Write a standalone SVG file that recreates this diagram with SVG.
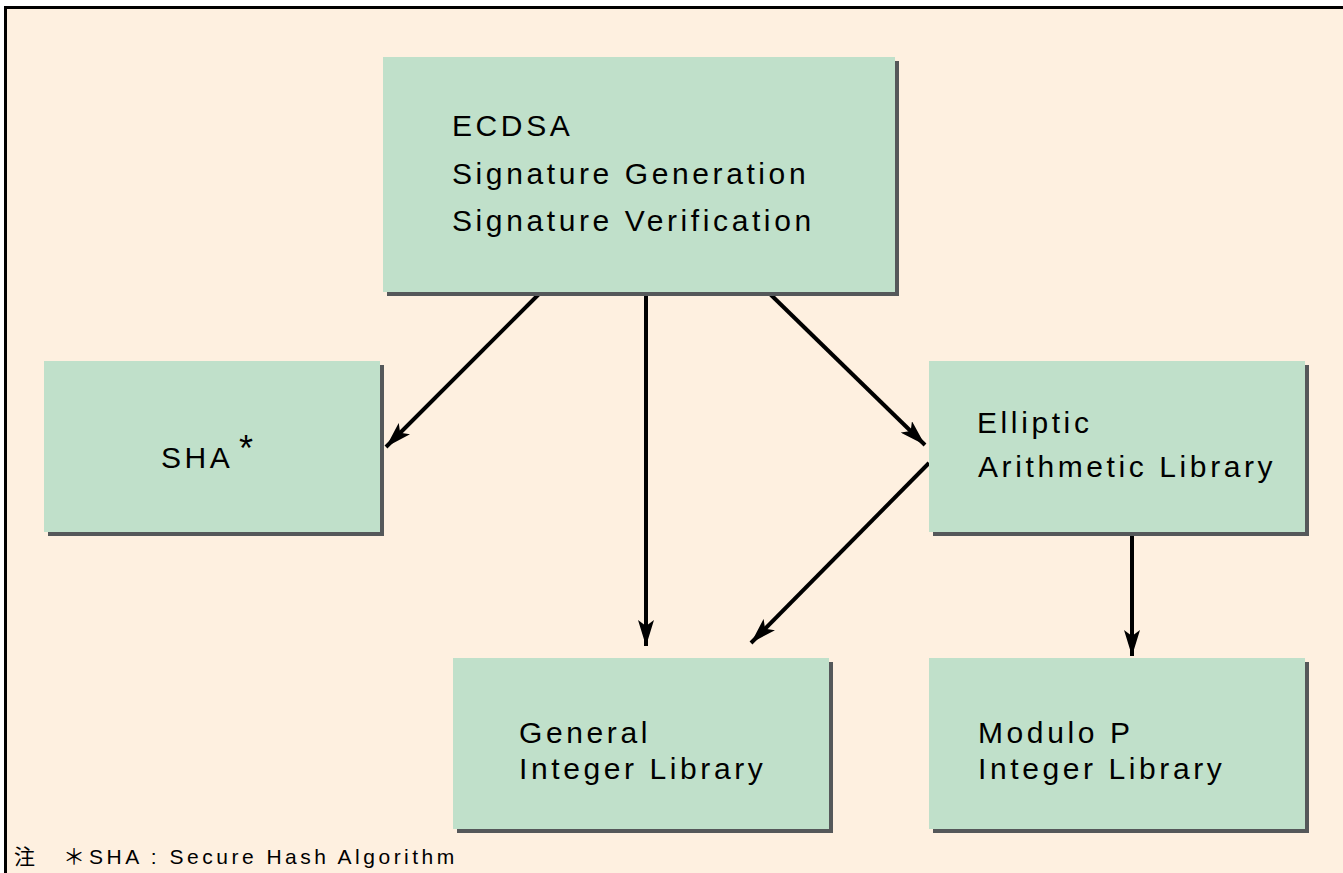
<svg xmlns="http://www.w3.org/2000/svg" width="1343" height="873" viewBox="0 0 1343 873">
<defs>
<style>
.box{fill:#c0e0ca}
.sh{fill:#55585a}
.t{font-family:"Liberation Sans",Arial,sans-serif;font-size:30px;letter-spacing:3.6px;fill:#000}
.c{stroke:#000;stroke-width:4;fill:none}
.n{font-family:"Liberation Sans",Arial,"Noto Sans CJK JP",sans-serif;font-size:21px;letter-spacing:3.5px;fill:#000}
.ast{font-family:"Liberation Sans",Arial,sans-serif;font-size:36px;fill:#000}
.fa{font-family:"Noto Sans CJK JP",sans-serif;font-size:22px;fill:#000}
</style>
<marker id="ah" viewBox="0 0 26 16" refX="26" refY="8" markerWidth="26" markerHeight="16" markerUnits="userSpaceOnUse" orient="auto">
<path d="M0,0 L26,8 L0,16 L6,8 Z" fill="#000"/>
</marker>
</defs>
<rect x="0" y="0" width="1343" height="873" fill="#fff"/>
<rect x="5.5" y="7.5" width="1345" height="880" fill="#fef0e0" stroke="#000" stroke-width="3"/>
<g id="connectors">
<line class="c" x1="541" y1="292" x2="386" y2="447" marker-end="url(#ah)"/>
<line class="c" x1="646" y1="292" x2="646" y2="646" marker-end="url(#ah)"/>
<line class="c" x1="768" y1="292" x2="925" y2="445" marker-end="url(#ah)"/>
<line class="c" x1="929" y1="463" x2="751" y2="643" marker-end="url(#ah)"/>
<line class="c" x1="1132" y1="532" x2="1132" y2="656" marker-end="url(#ah)"/>
</g>
<g id="ecdsa">
<rect class="sh" x="387" y="61" width="512" height="235"/>
<rect class="box" x="383" y="57" width="512" height="235"/>
<text class="t" x="452" y="136">ECDSA</text>
<text class="t" x="452" y="184">Signature Generation</text>
<text class="t" x="452" y="231">Signature Verification</text>
</g>
<g id="sha">
<rect class="sh" x="48" y="365" width="336" height="171"/>
<rect class="box" x="44" y="361" width="336" height="171"/>
<text class="t" x="161" y="468">SHA</text>
<text class="ast" x="239" y="461">*</text>
</g>
<g id="elliptic">
<rect class="sh" x="933" y="365" width="376" height="171"/>
<rect class="box" x="929" y="361" width="376" height="171"/>
<text class="t" x="977" y="433">Elliptic</text>
<text class="t" x="978" y="477">Arithmetic Library</text>
</g>
<g id="general">
<rect class="sh" x="457" y="662" width="376" height="171"/>
<rect class="box" x="453" y="658" width="376" height="171"/>
<text class="t" x="519" y="743">General</text>
<text class="t" x="519" y="779">Integer Library</text>
</g>
<g id="modulo">
<rect class="sh" x="933" y="662" width="376" height="171"/>
<rect class="box" x="929" y="658" width="376" height="171"/>
<text class="t" x="978" y="743">Modulo P</text>
<text class="t" x="978" y="779">Integer Library</text>
</g>
<g id="note">
<text class="n" x="14" y="864">注</text>
<text class="fa" x="63" y="864">＊</text>
<text class="n" x="89" y="864">SHA : Secure Hash Algorithm</text>
</g>
</svg>
